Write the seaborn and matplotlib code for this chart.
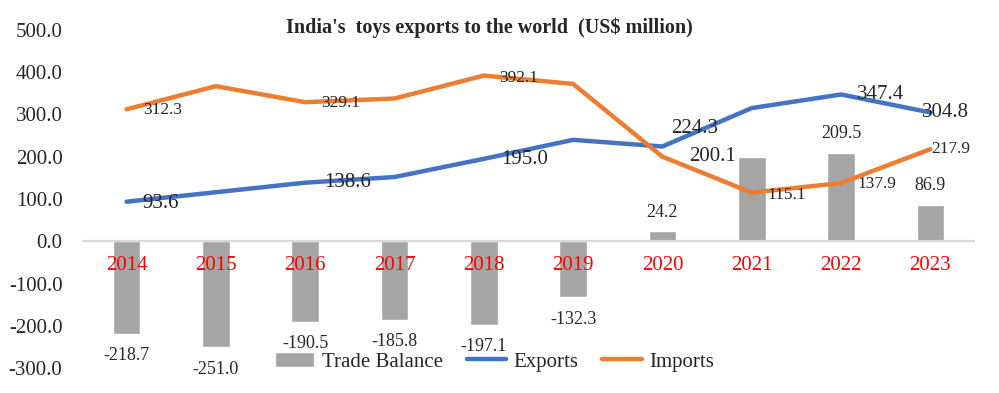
import pandas as pd
import matplotlib.pyplot as plt
import seaborn as sb

# data (US$ million)
years = ['2014', '2015', '2016', '2017', '2018', '2019', '2020', '2021', '2022', '2023']
exports = [93.6, 116.0, 138.6, 152.0, 195.0, 240.0, 224.3, 315.2, 347.4, 304.8]
imports = [312.3, 367.0, 329.1, 337.8, 392.1, 372.3, 200.1, 115.1, 137.9, 217.9]
trade_balance = [-218.7, -251.0, -190.5, -185.8, -197.1, -132.3, 24.2, 200.1, 209.5, 86.9]

# which points carry a data label in the reference
exp_labelled = [True, False, True, False, True, False, True, False, True, True]
imp_labelled = [True, False, True, False, True, False, True, True, True, True]
tb_labelled = [True, True, True, True, True, True, True, False, True, True]

df = pd.DataFrame({'Year': years, 'Exports': exports, 'Imports': imports,
                   'Trade Balance': trade_balance})

BLUE = '#4472C4'
ORANGE = '#ED7D31'
GREY = '#A5A5A5'

sb.set_style('white')
plt.rcParams['font.family'] = ['Liberation Serif', 'DejaVu Serif']

fig = plt.figure(figsize=(9.99, 3.93), dpi=100)
ax = fig.add_axes([0.082, 0.0636, 0.894, 0.8601])

sb.barplot(data=df, x='Year', y='Trade Balance', color=GREY, width=0.31,
           saturation=1, ax=ax, label='Trade Balance')
sb.lineplot(data=df, x='Year', y='Exports', color=BLUE, linewidth=3.2, sort=False,
            ax=ax, label='Exports', solid_capstyle='round')
sb.lineplot(data=df, x='Year', y='Imports', color=ORANGE, linewidth=3.2, sort=False,
            ax=ax, label='Imports', solid_capstyle='round')

ax.axhline(0, color='#D9D9D9', linewidth=1.6, zorder=1)
ax.set_ylim(-300, 500)
ax.set_xlim(-0.5, len(years) - 0.5)
ax.set_yticks(range(-300, 501, 100))
ax.set_yticklabels([f'{v:.1f}' for v in range(-300, 501, 100)], fontsize=15)
ax.tick_params(axis='y', length=0, pad=14)
ax.set_xticks([])
ax.set_xlabel('')
ax.set_ylabel('')
for s in ax.spines.values():
    s.set_visible(False)

# red year labels just under the zero line
for i, y in enumerate(years):
    ax.text(i, -57, y, color='red', fontsize=15, ha='center', va='center')

# data label offsets in pixels (x right, y down)
exp_off = [(34, 2), None, (42, 0), None, (41, 1), None, (32, -18), None, (40, 0), (15, 0)]
imp_off = [(36, 1), None, (35, 1), None, (35, 2), None, (50, 0), (35, 2), (36, 1), (20, 0)]

def label(x, v, off, size):
    ax.annotate(f'{v:.1f}', (x, v), xytext=(off[0], -off[1]), textcoords='offset pixels',
                ha='center', va='center', fontsize=size, zorder=5)

for i in range(len(years)):
    if exp_labelled[i]:
        label(i, exports[i], exp_off[i], 15)
    if imp_labelled[i]:
        label(i, imports[i], imp_off[i], 15 if i == 6 else 12.5)
    if tb_labelled[i]:
        tb = trade_balance[i]
        label(i, tb, (0, 22 if tb < 0 else -19), 13)

handles, labels = ax.get_legend_handles_labels()
order = [labels.index(n) for n in ['Trade Balance', 'Exports', 'Imports']]
ax.legend([handles[k] for k in order], [labels[k] for k in order],
          loc='center', bbox_to_anchor=(0.462, 0.018), ncol=3, frameon=False,
          fontsize=15, handlelength=1.9, handletextpad=0.35, columnspacing=1.15,
          borderpad=0)

fig.text(0.49, 1 - 28 / 393, "India's  toys exports to the world  (US$ million)",
         fontsize=14.5, fontweight='bold', ha='center', va='center')

plt.savefig('out.png', dpi=100)
